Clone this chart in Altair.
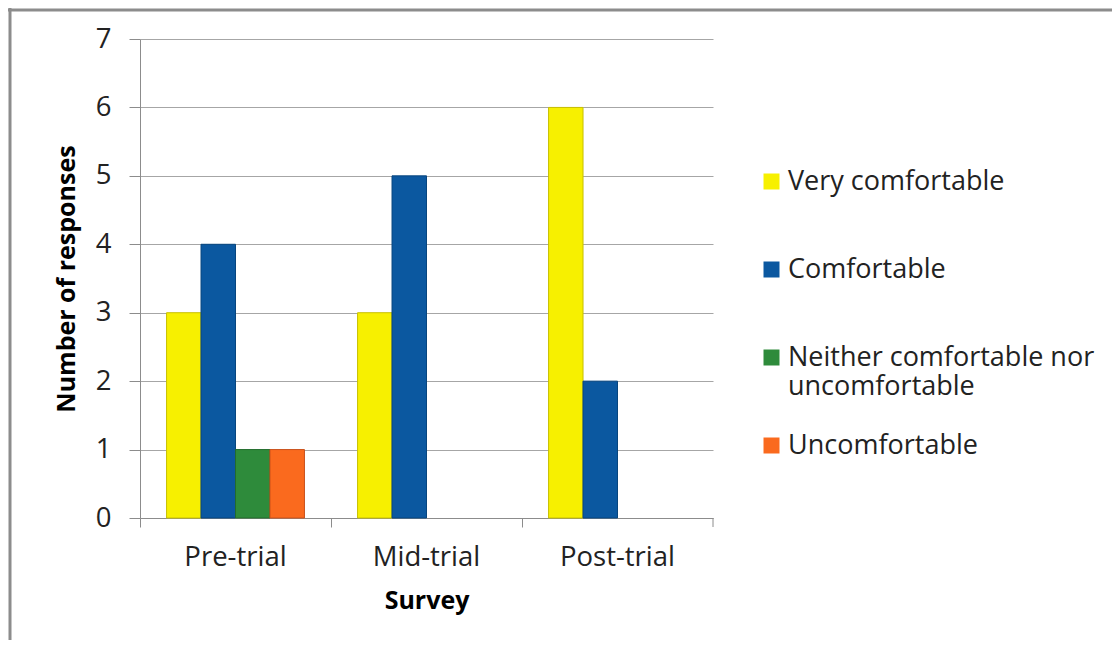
import altair as alt
import pandas as pd

categories = ["Pre-trial", "Mid-trial", "Post-trial"]
series = ["Very comfortable", "Comfortable", "Neither comfortable nor uncomfortable", "Uncomfortable"]
very_comfortable = [3, 3, 6]
comfortable = [4, 5, 2]
neither = [1, 0, 0]
uncomfortable = [1, 0, 0]
colors = ["#F7F000", "#0B58A0", "#2E8B3B", "#FA6A1E"]
strokes = ["#C8C000", "#07457E", "#226B2C", "#C9501A"]

rows = []
for s, vals in zip(series, [very_comfortable, comfortable, neither, uncomfortable]):
    for c, v in zip(categories, vals):
        rows.append({"survey": c, "series": s, "value": v})
df = pd.DataFrame(rows)

W, H = 573, 479
PL, PT, PR, PB = 132, 31, 399, 122
FONT = "Open Sans"

bars = alt.Chart(df).transform_filter("datum.value > 0").mark_bar(strokeWidth=1).encode(
    x=alt.X("survey:N", sort=categories,
            scale=alt.Scale(paddingInner=0, paddingOuter=0),
            axis=alt.Axis(title="Survey", labelAngle=0, bandPosition=0, tickSize=9,
                          labelPadding=16, titlePadding=18, domainColor="#8C8C8C",
                          tickColor="#8C8C8C", grid=False)),
    xOffset=alt.XOffset("series:N", sort=series,
                        scale=alt.Scale(domain=series, paddingInner=0, paddingOuter=0.77)),
    y=alt.Y("value:Q", scale=alt.Scale(domain=[0, 7]),
            axis=alt.Axis(title="Number of responses", values=[0, 1, 2, 3, 4, 5, 6, 7],
                          tickSize=11, labelPadding=18, titlePadding=16,
                          domainColor="#8C8C8C", tickColor="#8C8C8C",
                          gridColor="#A6A6A6", grid=True)),
    color=alt.Color("series:N", sort=series,
                    scale=alt.Scale(domain=series, range=colors),
                    legend=alt.Legend(title=None, orient="none", legendX=618, legendY=129,
                                      symbolType="square", symbolSize=256,
                                      symbolStrokeWidth=0, rowPadding=31,
                                      gridAlign="all", labelOffset=3,
                                      labelExpr="datum.label == 'Neither comfortable nor uncomfortable' ? ['Neither comfortable nor', 'uncomfortable'] : datum.label")),
    stroke=alt.Stroke("series:N", sort=series,
                      scale=alt.Scale(domain=series, range=strokes), legend=None),
)

end_tick = alt.Chart(pd.DataFrame({"k": [0]})).mark_rule(color="#8C8C8C").encode(
    x=alt.value(W), y=alt.value(H), y2=alt.value(H + 9))

frame_top = alt.Chart(pd.DataFrame({"k": [0]})).mark_rule(color="#8C8C8C", strokeWidth=3).encode(
    x=alt.value(-PL), x2=alt.value(W + PR), y=alt.value(-PT + 2))
frame_left = alt.Chart(pd.DataFrame({"k": [0]})).mark_rule(color="#8C8C8C", strokeWidth=3).encode(
    x=alt.value(-PL + 2), y=alt.value(-PT), y2=alt.value(H + PB))

chart = alt.layer(bars, end_tick, frame_top, frame_left).properties(
    width=W, height=H,
    padding={"left": PL, "top": PT, "right": PR, "bottom": PB},
    autosize="none",
    background="white",
).configure_view(stroke=None).configure_axis(
    labelFont=FONT, labelFontSize=27.5, labelColor="#222222",
    titleFont=FONT, titleFontSize=25, titleFontWeight="bold", titleColor="#000000",
).configure_legend(
    labelFont=FONT, labelFontSize=27, labelColor="#222222", labelLimit=400,
)

chart.save("out.html", embed_options={"renderer": "svg", "actions": False})
